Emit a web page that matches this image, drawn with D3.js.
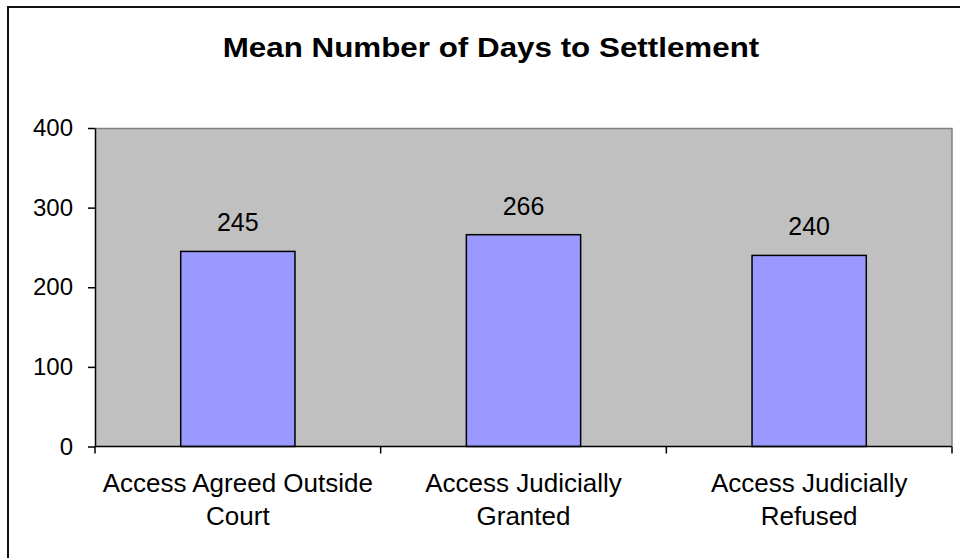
<!DOCTYPE html>
<html>
<head>
<meta charset="utf-8">
<script src="https://cdn.jsdelivr.net/npm/d3@7"></script>
<style>
  html, body { margin: 0; padding: 0; background: #fff; }
  svg { display: block; font-family: "Liberation Sans", Arial, sans-serif; }
  .axis path, .axis line { stroke: #000; stroke-width: 1.5px; }
  .axis text { fill: #000; }
</style>
</head>
<body>
<div id="chart"></div>
<script>
// Excel-style column chart: mean days to settlement by access outcome.
const TITLE = "Mean Number of Days to Settlement";
const categories = ["Access Agreed Outside Court", "Access Judicially Granted", "Access Judicially Refused"];
const meanDays = [245, 266, 240];
const yTicks = [0, 100, 200, 300, 400];

const width = 960, height = 558;
const m = { top: 128, right: 8, bottom: 111.5, left: 95 };
const iW = width - m.left - m.right, iH = height - m.top - m.bottom;

const svg = d3.select("#chart").append("svg")
  .attr("width", width).attr("height", height);

// outer chart border (runs off the right/bottom edge like the source)
svg.append("rect").attr("x", 8).attr("y", 7).attr("width", 960).attr("height", 560)
  .attr("fill", "none").attr("stroke", "#111").attr("stroke-width", 2);

svg.append("text").attr("x", 491).attr("y", 57).attr("text-anchor", "middle")
  .attr("font-weight", "bold").attr("font-size", 28).attr("transform", "translate(491,0) scale(1.12,1) translate(-491,0)")
  .text(TITLE);

const x = d3.scaleBand(categories, [0, iW]).paddingInner(0.6).paddingOuter(0.3);
const band = d3.scaleBand(categories, [0, iW]);
const y = d3.scaleLinear([0, 400], [iH, 0]);

const g = svg.append("g").attr("transform", `translate(${m.left},${m.top})`);

// plot area
g.append("rect").attr("width", iW).attr("height", iH).attr("fill", "#c0c0c0");
g.append("path").attr("d", `M0,0.5H${iW}V${iH}`).attr("fill", "none")
  .attr("stroke", "#808080").attr("stroke-width", 1.5);

g.selectAll(".bar").data(meanDays).join("rect").attr("class", "bar")
  .attr("x", (d, i) => x(categories[i])).attr("width", x.bandwidth())
  .attr("y", (d) => y(d)).attr("height", (d) => iH - y(d))
  .attr("fill", "#9999ff").attr("stroke", "#000").attr("stroke-width", 1.5);

g.selectAll(".val").data(meanDays).join("text").attr("class", "val")
  .attr("x", (d, i) => x(categories[i]) + x.bandwidth() / 2).attr("y", (d) => y(d) - 20)
  .attr("text-anchor", "middle").attr("font-size", 25).text((d) => d);

// y axis
const yAxis = g.append("g").attr("class", "axis")
  .call(d3.axisLeft(y).tickValues(yTicks).tickSize(7).tickPadding(15).tickSizeOuter(0));
yAxis.selectAll("text").attr("font-size", 24);

// x axis: ticks on category boundaries
const xAxis = g.append("g").attr("class", "axis").attr("transform", `translate(0,${iH})`);
xAxis.append("line").attr("x1", 0).attr("x2", iW).attr("stroke", "#000").attr("stroke-width", 1.5);
const bounds = [0, ...categories.map((c) => band(c) + band.bandwidth())];
xAxis.selectAll(".tk").data(bounds).join("line").attr("class", "tk")
  .attr("x1", (d) => d).attr("x2", (d) => d).attr("y1", 0).attr("y2", 7)
  .attr("stroke", "#000").attr("stroke-width", 1.5);

const labels = xAxis.selectAll(".cat").data(categories).join("text").attr("class", "cat")
  .attr("x", (d) => band(d) + band.bandwidth() / 2).attr("y", 45.5)
  .attr("text-anchor", "middle").attr("font-size", 26).attr("fill", "#000");

// wrap category names to the band width
labels.each(function (d) {
  const t = d3.select(this);
  const words = d.split(" ");
  let line = [], lines = [];
  const probe = t.append("tspan");
  for (const w of words) {
    line.push(w);
    probe.text(line.join(" "));
    if (probe.node().getComputedTextLength() > band.bandwidth() * 0.98 && line.length > 1) {
      line.pop();
      lines.push(line.join(" "));
      line = [w];
    }
  }
  lines.push(line.join(" "));
  probe.remove();
  lines.forEach((l, i) => {
    t.append("tspan").attr("x", band(d) + band.bandwidth() / 2).attr("dy", i ? 33 : 0).text(l);
  });
});
</script>
</body>
</html>
